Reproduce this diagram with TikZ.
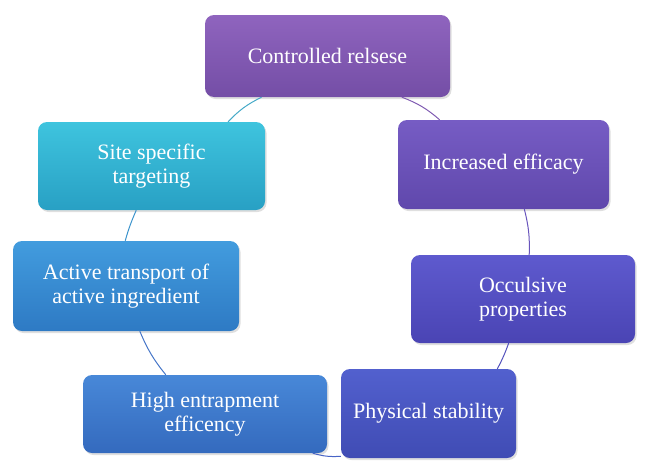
\documentclass[tikz,border=0pt]{standalone}
\usepackage{fontspec}
\setmainfont{Liberation Serif}
\usetikzlibrary{shadows}
\definecolor{ctrlT}{RGB}{143,100,190}\definecolor{ctrlB}{RGB}{116,78,166}
\definecolor{incrT}{RGB}{118,92,196}\definecolor{incrB}{RGB}{96,72,172}
\definecolor{occT}{RGB}{94,90,206}\definecolor{occB}{RGB}{74,68,180}
\definecolor{physT}{RGB}{82,96,206}\definecolor{physB}{RGB}{64,76,180}
\definecolor{highT}{RGB}{72,136,216}\definecolor{highB}{RGB}{52,106,190}
\definecolor{actT}{RGB}{66,156,222}\definecolor{actB}{RGB}{46,122,196}
\definecolor{siteT}{RGB}{62,196,222}\definecolor{siteB}{RGB}{40,160,196}
\definecolor{cA}{RGB}{70,170,200}\definecolor{cB}{RGB}{128,92,178}
\definecolor{cC}{RGB}{104,84,188}\definecolor{cD}{RGB}{82,80,188}
\definecolor{cE}{RGB}{72,100,198}\definecolor{cF}{RGB}{70,118,200}
\definecolor{cG}{RGB}{60,148,204}
\tikzset{
  box/.style={rectangle, rounded corners=9pt, text=white, align=center, inner sep=0pt,
    font=\fontsize{22}{24}\selectfont,
    drop shadow={opacity=0.25, shadow xshift=1.5pt, shadow yshift=-2pt}},
  link/.style={line width=1pt}
}
\begin{document}
\begin{tikzpicture}[x=1pt,y=-1pt]
\useasboundingbox (0,0) rectangle (650,474);
\node[box, top color=ctrlT, bottom color=ctrlB, minimum width=245pt, minimum height=82pt] (ctrl) at (327.5,56) {Controlled relsese};
\node[box, top color=siteT, bottom color=siteB, minimum width=227pt, minimum height=88pt] (site) at (151.5,166) {Site specific\\targeting};
\node[box, top color=incrT, bottom color=incrB, minimum width=211pt, minimum height=89pt] (incr) at (503.5,164.5) {Increased efficacy};
\node[box, top color=actT, bottom color=actB, minimum width=226pt, minimum height=90pt] (act) at (126,286) {Active transport of\\ active ingredient};
\node[box, top color=occT, bottom color=occB, minimum width=224pt, minimum height=88pt] (occ) at (523,299) {Occulsive\\properties};
\node[box, top color=highT, bottom color=highB, minimum width=244pt, minimum height=78pt] (high) at (205,414) {High entrapment\\ efficency};
\node[box, top color=physT, bottom color=physB, minimum width=175pt, minimum height=89pt] (phys) at (428.5,413.5) {Physical stability};
\draw[link, cB] (ctrl.-29.5) to[bend left=10] (incr.145);
\draw[link, cC] (incr.-65.3) to[bend left=8] (occ.82.2);
\draw[link, cD] (occ.-108.8) to[bend left=4] (phys.33);
\draw[link, cE] (phys.-154.1) to[bend left=10] (high.-20);
\draw[link, cF] (high.135) to[bend left=8] (act.-73.9);
\draw[link, cG] (act.91.3) to[bend left=4] (site.-109.4);
\draw[link, cA] (site.30.9) to[bend left=10] (ctrl.-148);
\end{tikzpicture}
\end{document}
